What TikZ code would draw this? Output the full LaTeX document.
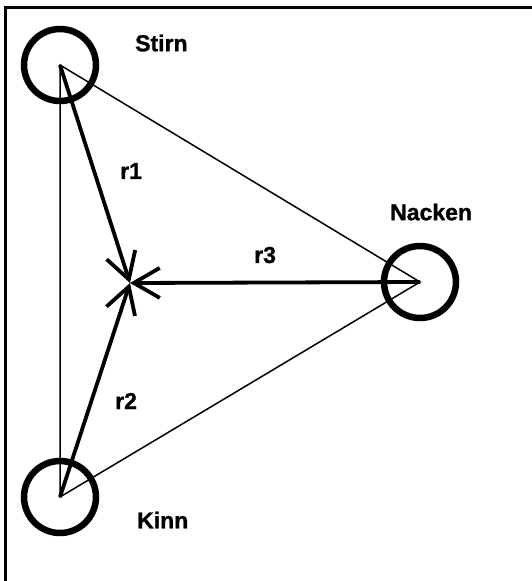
\documentclass[tikz,border=0pt]{standalone}
\usepackage{fontspec}
\setmainfont{Liberation Sans}
\newfontfamily\lblfont[FakeBold=1.2]{Liberation Sans Bold}
\usetikzlibrary{arrows.meta}
\begin{document}
\begin{tikzpicture}[x=1pt,y=-1pt,
  frameline/.style={line width=3pt},
  pointcircle/.style={circle,draw,line width=6.5pt,minimum size=72pt,inner sep=0pt},
  thinline/.style={line width=1.5pt},
  radius arrow/.style={line width=3.8pt,-{Straight Barb[angle=60:30pt,line width=3.8pt]}},
  lbl/.style={font=\lblfont\fontsize{23}{26}\selectfont,inner sep=0pt,anchor=west}]
\useasboundingbox (0,0) rectangle (532,581);
\coordinate (fb) at (5.5,581);
\coordinate (fc) at (5.5,7);
\coordinate (fr) at (532,7);
\draw[frameline] (fb) -- (fc) -- (fr);
\coordinate (S) at (60,65);
\coordinate (K) at (60,497);
\coordinate (N) at (420,282);
\coordinate (C) at (130,283);
\node[pointcircle] (cS) at (S) {};
\node[pointcircle] (cK) at (K) {};
\node[pointcircle] (cN) at (N) {};
\draw[thinline] (S) -- (K) -- (N) -- cycle;
\draw[radius arrow] (S) -- (C);
\draw[radius arrow] (K) -- (C);
\draw[radius arrow] (N) -- (C);
\node[lbl] (tS) at (135,43) {Stirn};
\node[lbl] (tN) at (390,212) {Nacken};
\node[lbl] (tK) at (137,520) {Kinn};
\node[lbl] (t1) at (120,171) {r1};
\node[lbl] (t3) at (254,255) {r3};
\node[lbl] (t2) at (115,401) {r2};
\end{tikzpicture}
\end{document}
